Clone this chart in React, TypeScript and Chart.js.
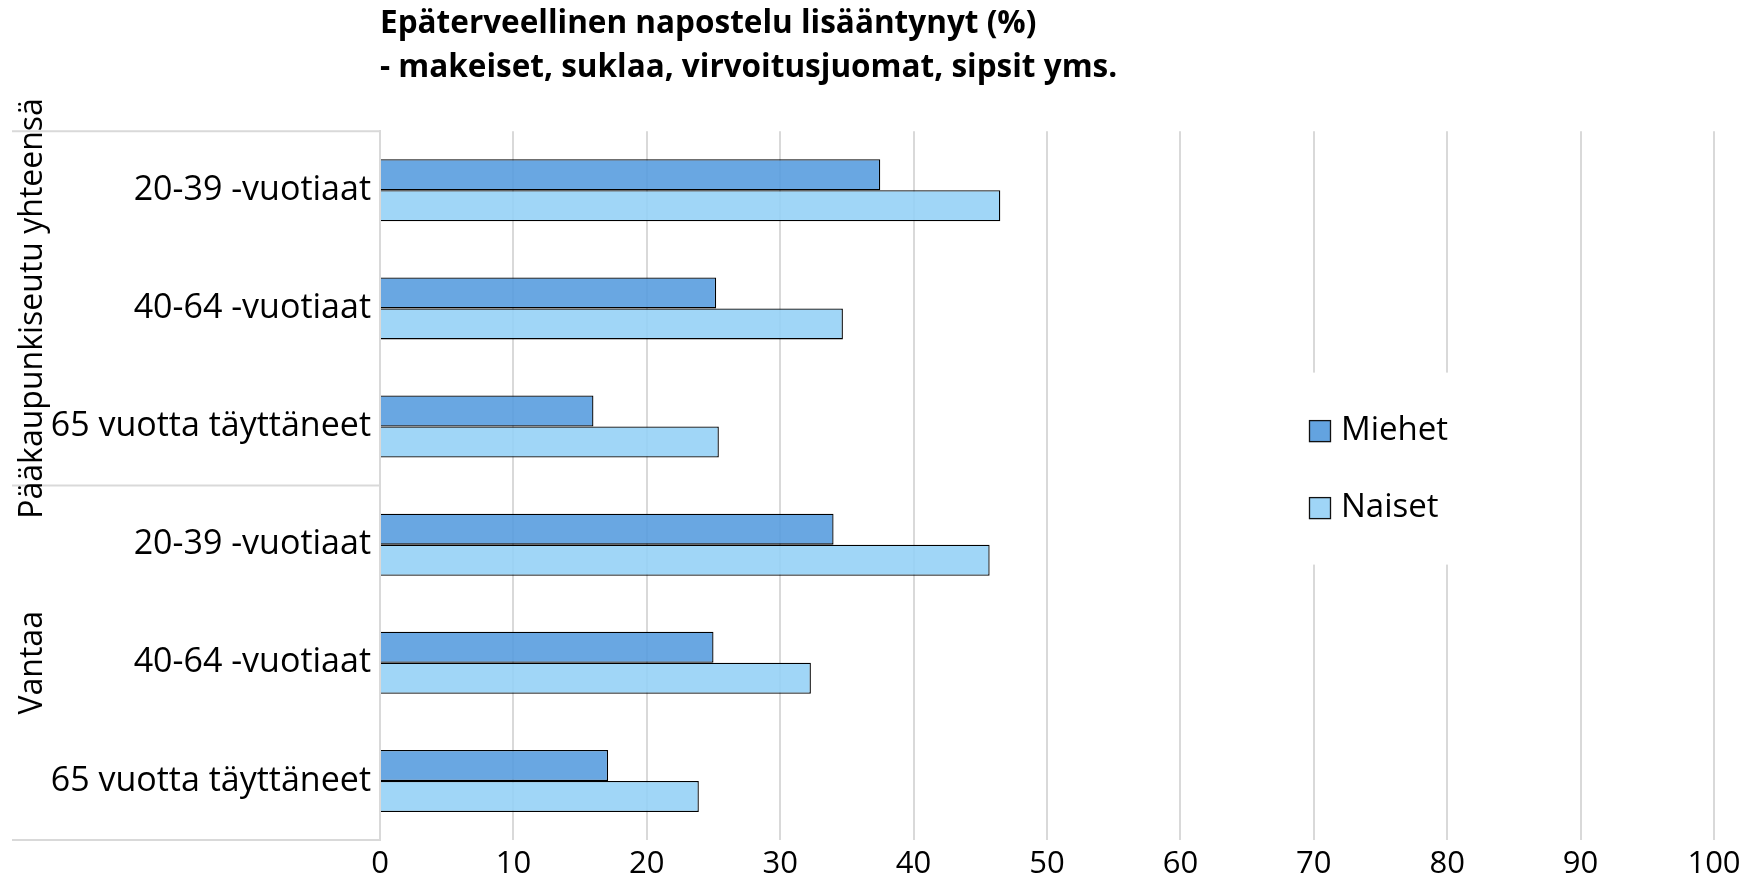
import React, { useEffect, useRef } from 'react';
import { Chart, registerables } from 'chart.js';

Chart.register(...registerables);

const categories = [
  '20-39 -vuotiaat',
  '40-64 -vuotiaat',
  '65 vuotta täyttäneet',
  '20-39 -vuotiaat',
  '40-64 -vuotiaat',
  '65 vuotta täyttäneet',
];
const groupNames = ['Pääkaupunkiseutu yhteensä', 'Vantaa'];
const groupSizes = [3, 3];
const miehet = [37.5, 25.2, 16.0, 34.0, 25.0, 17.1];
const naiset = [46.5, 34.7, 25.4, 45.7, 32.3, 23.9];
const seriesNames = ['Miehet', 'Naiset'];
const titleLines = [
  'Epäterveellinen napostelu lisääntynyt (%)',
  '- makeiset, suklaa, virvoitusjuomat, sipsit yms.',
];
const xMin = 0;
const xMax = 100;
const xStep = 10;

const FONT = '"Open Sans", "DejaVu Sans", sans-serif';
const COLORS = ['rgba(84,155,222,0.88)', 'rgba(147,208,246,0.88)'];
const LEGEND_COLORS = ['#63A3E0', '#9FD5F7'];
const GRID = '#D9D9D9';

const groupPlugin = {
  id: 'groupAxis',
  afterDraw(chart: any) {
    const { ctx, chartArea, scales } = chart;
    const y = scales.y;
    const bounds: number[] = [chartArea.top];
    let idx = 0;
    groupSizes.forEach((n) => {
      idx += n;
      if (idx < categories.length) {
        bounds.push((y.getPixelForValue(idx - 1) + y.getPixelForValue(idx)) / 2);
      } else {
        bounds.push(chartArea.bottom);
      }
    });
    ctx.save();
    ctx.strokeStyle = GRID;
    ctx.lineWidth = 2;
    bounds.forEach((b) => {
      ctx.beginPath();
      ctx.moveTo(12, b);
      ctx.lineTo(chartArea.left, b);
      ctx.stroke();
    });
    ctx.fillStyle = '#000';
    ctx.font = `32px ${FONT}`;
    ctx.textAlign = 'center';
    ctx.textBaseline = 'alphabetic';
    groupNames.forEach((g, i) => {
      const cy = (bounds[i] + bounds[i + 1]) / 2;
      ctx.save();
      ctx.translate(42, cy);
      ctx.rotate(-Math.PI / 2);
      ctx.fillText(g, 0, 0);
      ctx.restore();
    });
    ctx.restore();
  },
};

const legendPlugin = {
  id: 'insideLegend',
  afterDraw(chart: any) {
    const { ctx, chartArea } = chart;
    const lx = chartArea.right - 405;
    const cy = (chartArea.top + chartArea.bottom) / 2 - 16;
    ctx.save();
    ctx.fillStyle = '#fff';
    ctx.fillRect(lx - 20, cy - 97, 260, 192);
    ctx.font = `33px ${FONT}`;
    ctx.textAlign = 'left';
    ctx.textBaseline = 'alphabetic';
    seriesNames.forEach((name, i) => {
      const sy = cy - 38.5 + i * 77;
      ctx.fillStyle = LEGEND_COLORS[i];
      ctx.fillRect(lx, sy - 11, 22, 22);
      ctx.strokeStyle = '#111';
      ctx.lineWidth = 1.3;
      ctx.strokeRect(lx + 0.5, sy - 10.5, 21, 21);
      ctx.fillStyle = '#000';
      ctx.fillText(name, lx + 32, sy + 9);
    });
    ctx.restore();
  },
};

export default function App() {
  const canvasRef = useRef<HTMLCanvasElement | null>(null);

  useEffect(() => {
    document.body.style.margin = '0';
    let chart: Chart | null = null;
    let cancelled = false;
    const make = () => {
      if (cancelled || !canvasRef.current) return;
      chart = new Chart(canvasRef.current, {
        type: 'bar',
        data: {
          labels: categories,
          datasets: [
            {
              label: seriesNames[0],
              data: miehet,
              backgroundColor: COLORS[0],
              borderColor: '#000',
              borderWidth: 1.3,
              barPercentage: 1,
              categoryPercentage: 0.525,
            },
            {
              label: seriesNames[1],
              data: naiset,
              backgroundColor: COLORS[1],
              borderColor: '#000',
              borderWidth: 1.3,
              barPercentage: 1,
              categoryPercentage: 0.525,
            },
          ],
        },
        options: {
          indexAxis: 'y',
          animation: false,
          responsive: true,
          maintainAspectRatio: false,
          layout: { padding: { left: 0, right: 36, top: 0, bottom: 0 } },
          plugins: {
            legend: { display: false },
            tooltip: { enabled: false },
            title: {
              display: true,
              text: titleLines,
              align: 'start',
              fullSize: false,
              color: '#000',
              font: { family: FONT, size: 31.5, weight: 'bold', lineHeight: 1.4 },
              padding: { top: 2, bottom: 131 - 2 - 88 },
            },
          },
          scales: {
            x: {
              type: 'linear',
              position: 'bottom',
              min: xMin,
              max: xMax,
              ticks: {
                stepSize: xStep,
                color: '#000',
                font: { family: FONT, size: 31 },
                padding: 6,
              },
              grid: { color: GRID, lineWidth: 2, drawTicks: false },
              border: { display: false },
              afterFit: (scale: any) => {
                scale.height = 39;
              },
            },
            y: {
              type: 'category',
              position: 'left',
              ticks: {
                color: '#000',
                font: { family: FONT, size: 34 },
                padding: 9,
              },
              grid: { display: false, drawTicks: false },
              border: { display: true, color: GRID, width: 2 },
              afterFit: (scale: any) => {
                scale.width = 380;
              },
            },
          },
        },
        plugins: [groupPlugin, legendPlugin],
      });
    };
    const fontsReady = (document as any).fonts
      ? Promise.all([
          (document as any).fonts.load(`33px "Open Sans"`),
          (document as any).fonts.load(`bold 30px "Open Sans"`),
        ]).catch(() => null)
      : Promise.resolve(null);
    fontsReady.then(make);
    return () => {
      cancelled = true;
      if (chart) chart.destroy();
    };
  }, []);

  return (
    <div style={{ width: 1750, height: 879, position: 'relative' }}>
      <canvas ref={canvasRef} />
    </div>
  );
}
